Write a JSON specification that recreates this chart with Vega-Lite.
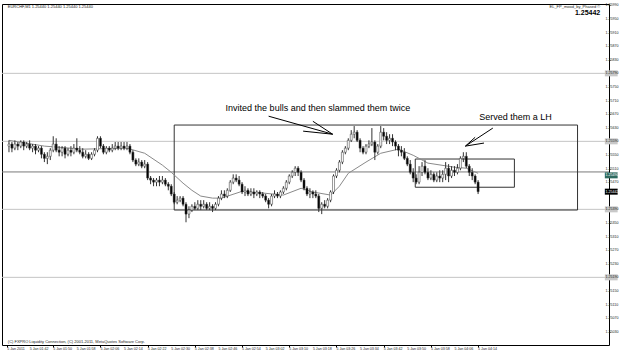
{
"$schema": "https://vega.github.io/schema/vega-lite/v6.json",
"width": 607, "height": 341,
"autosize": {"type": "none"},
"padding": {"left": 2, "top": 4, "right": 16, "bottom": 8},
"background": "#ffffff",
"config": {"view": {"stroke": "#000000", "strokeWidth": 1}, "font": "Liberation Sans",
"axis": {"labels": false, "grid": false, "domain": false, "title": null, "tickColor": "#000000"},
"axisX": {"tickSize": 2}, "axisY": {"tickSize": 1}},
"datasets": {
"candles": [
{"t":95,"o":1.25576,"c":1.25582,"h":1.25593,"l":1.25558},
{"t":96,"o":1.25582,"c":1.25570,"h":1.25588,"l":1.25558},
{"t":97,"o":1.25570,"c":1.25582,"h":1.25593,"l":1.25564},
{"t":98,"o":1.25582,"c":1.25576,"h":1.25588,"l":1.25564},
{"t":99,"o":1.25576,"c":1.25588,"h":1.25593,"l":1.25570},
{"t":100,"o":1.25588,"c":1.25576,"h":1.25593,"l":1.25564},
{"t":101,"o":1.25576,"c":1.25582,"h":1.25588,"l":1.25570},
{"t":102,"o":1.25582,"c":1.25570,"h":1.25593,"l":1.25564},
{"t":103,"o":1.25570,"c":1.25576,"h":1.25582,"l":1.25558},
{"t":104,"o":1.25576,"c":1.25564,"h":1.25582,"l":1.25552},
{"t":105,"o":1.25564,"c":1.25570,"h":1.25576,"l":1.25558},
{"t":106,"o":1.25570,"c":1.25552,"h":1.25576,"l":1.25540},
{"t":107,"o":1.25552,"c":1.25540,"h":1.25558,"l":1.25529},
{"t":108,"o":1.25540,"c":1.25546,"h":1.25558,"l":1.25523},
{"t":109,"o":1.25546,"c":1.25564,"h":1.25570,"l":1.25535},
{"t":110,"o":1.25564,"c":1.25582,"h":1.25605,"l":1.25558},
{"t":111,"o":1.25582,"c":1.25564,"h":1.25599,"l":1.25558},
{"t":112,"o":1.25564,"c":1.25558,"h":1.25576,"l":1.25546},
{"t":113,"o":1.25558,"c":1.25570,"h":1.25576,"l":1.25546},
{"t":114,"o":1.25570,"c":1.25552,"h":1.25576,"l":1.25540},
{"t":115,"o":1.25552,"c":1.25564,"h":1.25570,"l":1.25546},
{"t":116,"o":1.25564,"c":1.25558,"h":1.25576,"l":1.25546},
{"t":117,"o":1.25558,"c":1.25570,"h":1.25582,"l":1.25552},
{"t":118,"o":1.25570,"c":1.25564,"h":1.25599,"l":1.25558},
{"t":119,"o":1.25564,"c":1.25558,"h":1.25576,"l":1.25552},
{"t":120,"o":1.25558,"c":1.25546,"h":1.25570,"l":1.25540},
{"t":121,"o":1.25546,"c":1.25552,"h":1.25564,"l":1.25540},
{"t":122,"o":1.25552,"c":1.25540,"h":1.25558,"l":1.25535},
{"t":123,"o":1.25540,"c":1.25552,"h":1.25558,"l":1.25535},
{"t":124,"o":1.25552,"c":1.25564,"h":1.25570,"l":1.25546},
{"t":125,"o":1.25564,"c":1.25599,"h":1.25605,"l":1.25558},
{"t":126,"o":1.25599,"c":1.25576,"h":1.25605,"l":1.25570},
{"t":127,"o":1.25576,"c":1.25558,"h":1.25582,"l":1.25552},
{"t":128,"o":1.25558,"c":1.25570,"h":1.25576,"l":1.25552},
{"t":129,"o":1.25570,"c":1.25564,"h":1.25576,"l":1.25558},
{"t":130,"o":1.25564,"c":1.25570,"h":1.25582,"l":1.25558},
{"t":131,"o":1.25570,"c":1.25576,"h":1.25588,"l":1.25564},
{"t":132,"o":1.25576,"c":1.25570,"h":1.25588,"l":1.25564},
{"t":133,"o":1.25570,"c":1.25576,"h":1.25588,"l":1.25564},
{"t":134,"o":1.25576,"c":1.25570,"h":1.25588,"l":1.25564},
{"t":135,"o":1.25570,"c":1.25576,"h":1.25588,"l":1.25564},
{"t":136,"o":1.25576,"c":1.25558,"h":1.25582,"l":1.25552},
{"t":137,"o":1.25558,"c":1.25535,"h":1.25564,"l":1.25529},
{"t":138,"o":1.25535,"c":1.25523,"h":1.25540,"l":1.25517},
{"t":139,"o":1.25523,"c":1.25529,"h":1.25540,"l":1.25517},
{"t":140,"o":1.25529,"c":1.25517,"h":1.25535,"l":1.25511},
{"t":141,"o":1.25517,"c":1.25523,"h":1.25535,"l":1.25511},
{"t":142,"o":1.25523,"c":1.25482,"h":1.25529,"l":1.25476},
{"t":143,"o":1.25482,"c":1.25476,"h":1.25488,"l":1.25464},
{"t":144,"o":1.25476,"c":1.25470,"h":1.25482,"l":1.25458},
{"t":145,"o":1.25470,"c":1.25476,"h":1.25482,"l":1.25458},
{"t":146,"o":1.25476,"c":1.25470,"h":1.25488,"l":1.25458},
{"t":147,"o":1.25470,"c":1.25476,"h":1.25488,"l":1.25464},
{"t":148,"o":1.25476,"c":1.25464,"h":1.25482,"l":1.25458},
{"t":149,"o":1.25464,"c":1.25458,"h":1.25470,"l":1.25446},
{"t":150,"o":1.25458,"c":1.25435,"h":1.25464,"l":1.25429},
{"t":151,"o":1.25435,"c":1.25411,"h":1.25441,"l":1.25405},
{"t":152,"o":1.25411,"c":1.25417,"h":1.25429,"l":1.25405},
{"t":153,"o":1.25417,"c":1.25423,"h":1.25429,"l":1.25411},
{"t":154,"o":1.25423,"c":1.25405,"h":1.25429,"l":1.25399},
{"t":155,"o":1.25405,"c":1.25376,"h":1.25411,"l":1.25352},
{"t":156,"o":1.25376,"c":1.25388,"h":1.25399,"l":1.25364},
{"t":157,"o":1.25388,"c":1.25399,"h":1.25405,"l":1.25382},
{"t":158,"o":1.25399,"c":1.25393,"h":1.25411,"l":1.25388},
{"t":159,"o":1.25393,"c":1.25405,"h":1.25417,"l":1.25388},
{"t":160,"o":1.25405,"c":1.25399,"h":1.25417,"l":1.25388},
{"t":161,"o":1.25399,"c":1.25405,"h":1.25417,"l":1.25393},
{"t":162,"o":1.25405,"c":1.25393,"h":1.25411,"l":1.25388},
{"t":163,"o":1.25393,"c":1.25399,"h":1.25411,"l":1.25388},
{"t":164,"o":1.25399,"c":1.25393,"h":1.25405,"l":1.25382},
{"t":165,"o":1.25393,"c":1.25405,"h":1.25411,"l":1.25388},
{"t":166,"o":1.25405,"c":1.25423,"h":1.25429,"l":1.25399},
{"t":167,"o":1.25423,"c":1.25435,"h":1.25446,"l":1.25417},
{"t":168,"o":1.25435,"c":1.25429,"h":1.25446,"l":1.25423},
{"t":169,"o":1.25429,"c":1.25446,"h":1.25452,"l":1.25423},
{"t":170,"o":1.25446,"c":1.25470,"h":1.25476,"l":1.25441},
{"t":171,"o":1.25470,"c":1.25482,"h":1.25493,"l":1.25464},
{"t":172,"o":1.25482,"c":1.25476,"h":1.25493,"l":1.25470},
{"t":173,"o":1.25476,"c":1.25464,"h":1.25488,"l":1.25458},
{"t":174,"o":1.25464,"c":1.25441,"h":1.25470,"l":1.25435},
{"t":175,"o":1.25441,"c":1.25446,"h":1.25458,"l":1.25429},
{"t":176,"o":1.25446,"c":1.25435,"h":1.25452,"l":1.25429},
{"t":177,"o":1.25435,"c":1.25441,"h":1.25452,"l":1.25429},
{"t":178,"o":1.25441,"c":1.25435,"h":1.25452,"l":1.25423},
{"t":179,"o":1.25435,"c":1.25441,"h":1.25446,"l":1.25429},
{"t":180,"o":1.25441,"c":1.25435,"h":1.25446,"l":1.25423},
{"t":181,"o":1.25435,"c":1.25429,"h":1.25441,"l":1.25423},
{"t":182,"o":1.25429,"c":1.25417,"h":1.25435,"l":1.25411},
{"t":183,"o":1.25417,"c":1.25405,"h":1.25423,"l":1.25393},
{"t":184,"o":1.25405,"c":1.25429,"h":1.25435,"l":1.25399},
{"t":185,"o":1.25429,"c":1.25435,"h":1.25446,"l":1.25423},
{"t":186,"o":1.25435,"c":1.25429,"h":1.25441,"l":1.25423},
{"t":187,"o":1.25429,"c":1.25441,"h":1.25446,"l":1.25423},
{"t":188,"o":1.25441,"c":1.25452,"h":1.25458,"l":1.25435},
{"t":189,"o":1.25452,"c":1.25470,"h":1.25476,"l":1.25446},
{"t":190,"o":1.25470,"c":1.25488,"h":1.25493,"l":1.25464},
{"t":191,"o":1.25488,"c":1.25499,"h":1.25505,"l":1.25482},
{"t":192,"o":1.25499,"c":1.25511,"h":1.25517,"l":1.25488},
{"t":193,"o":1.25511,"c":1.25499,"h":1.25517,"l":1.25488},
{"t":194,"o":1.25499,"c":1.25476,"h":1.25505,"l":1.25470},
{"t":195,"o":1.25476,"c":1.25452,"h":1.25482,"l":1.25446},
{"t":196,"o":1.25452,"c":1.25435,"h":1.25458,"l":1.25429},
{"t":197,"o":1.25435,"c":1.25441,"h":1.25452,"l":1.25423},
{"t":198,"o":1.25441,"c":1.25435,"h":1.25446,"l":1.25423},
{"t":199,"o":1.25435,"c":1.25429,"h":1.25446,"l":1.25423},
{"t":200,"o":1.25429,"c":1.25393,"h":1.25435,"l":1.25382},
{"t":201,"o":1.25393,"c":1.25405,"h":1.25411,"l":1.25376},
{"t":202,"o":1.25405,"c":1.25399,"h":1.25417,"l":1.25393},
{"t":203,"o":1.25399,"c":1.25417,"h":1.25423,"l":1.25393},
{"t":204,"o":1.25417,"c":1.25441,"h":1.25446,"l":1.25411},
{"t":205,"o":1.25441,"c":1.25488,"h":1.25493,"l":1.25435},
{"t":206,"o":1.25488,"c":1.25505,"h":1.25511,"l":1.25482},
{"t":207,"o":1.25505,"c":1.25529,"h":1.25535,"l":1.25499},
{"t":208,"o":1.25529,"c":1.25558,"h":1.25564,"l":1.25523},
{"t":209,"o":1.25558,"c":1.25570,"h":1.25576,"l":1.25552},
{"t":210,"o":1.25570,"c":1.25593,"h":1.25599,"l":1.25564},
{"t":211,"o":1.25593,"c":1.25611,"h":1.25623,"l":1.25588},
{"t":212,"o":1.25611,"c":1.25617,"h":1.25635,"l":1.25599},
{"t":213,"o":1.25617,"c":1.25593,"h":1.25623,"l":1.25588},
{"t":214,"o":1.25593,"c":1.25570,"h":1.25599,"l":1.25558},
{"t":215,"o":1.25570,"c":1.25558,"h":1.25576,"l":1.25552},
{"t":216,"o":1.25558,"c":1.25576,"h":1.25582,"l":1.25552},
{"t":217,"o":1.25576,"c":1.25582,"h":1.25593,"l":1.25570},
{"t":218,"o":1.25582,"c":1.25588,"h":1.25629,"l":1.25576},
{"t":219,"o":1.25588,"c":1.25558,"h":1.25593,"l":1.25535},
{"t":220,"o":1.25558,"c":1.25576,"h":1.25582,"l":1.25552},
{"t":221,"o":1.25576,"c":1.25617,"h":1.25635,"l":1.25570},
{"t":222,"o":1.25617,"c":1.25605,"h":1.25629,"l":1.25593},
{"t":223,"o":1.25605,"c":1.25593,"h":1.25617,"l":1.25582},
{"t":224,"o":1.25593,"c":1.25599,"h":1.25611,"l":1.25582},
{"t":225,"o":1.25599,"c":1.25588,"h":1.25611,"l":1.25576},
{"t":226,"o":1.25588,"c":1.25576,"h":1.25593,"l":1.25564},
{"t":227,"o":1.25576,"c":1.25564,"h":1.25582,"l":1.25546},
{"t":228,"o":1.25564,"c":1.25558,"h":1.25576,"l":1.25546},
{"t":229,"o":1.25558,"c":1.25540,"h":1.25570,"l":1.25535},
{"t":230,"o":1.25540,"c":1.25523,"h":1.25546,"l":1.25517},
{"t":231,"o":1.25523,"c":1.25499,"h":1.25535,"l":1.25493},
{"t":232,"o":1.25499,"c":1.25482,"h":1.25511,"l":1.25470},
{"t":233,"o":1.25482,"c":1.25470,"h":1.25493,"l":1.25464},
{"t":234,"o":1.25470,"c":1.25499,"h":1.25517,"l":1.25464},
{"t":235,"o":1.25499,"c":1.25517,"h":1.25529,"l":1.25488},
{"t":236,"o":1.25517,"c":1.25499,"h":1.25535,"l":1.25493},
{"t":237,"o":1.25499,"c":1.25482,"h":1.25511,"l":1.25476},
{"t":238,"o":1.25482,"c":1.25493,"h":1.25505,"l":1.25476},
{"t":239,"o":1.25493,"c":1.25476,"h":1.25499,"l":1.25470},
{"t":240,"o":1.25476,"c":1.25488,"h":1.25499,"l":1.25470},
{"t":241,"o":1.25488,"c":1.25482,"h":1.25505,"l":1.25470},
{"t":242,"o":1.25482,"c":1.25493,"h":1.25505,"l":1.25470},
{"t":243,"o":1.25493,"c":1.25511,"h":1.25529,"l":1.25476},
{"t":244,"o":1.25511,"c":1.25488,"h":1.25523,"l":1.25470},
{"t":245,"o":1.25488,"c":1.25505,"h":1.25517,"l":1.25482},
{"t":246,"o":1.25505,"c":1.25499,"h":1.25517,"l":1.25488},
{"t":247,"o":1.25499,"c":1.25511,"h":1.25523,"l":1.25493},
{"t":248,"o":1.25511,"c":1.25540,"h":1.25546,"l":1.25505},
{"t":249,"o":1.25540,"c":1.25546,"h":1.25558,"l":1.25529},
{"t":250,"o":1.25546,"c":1.25517,"h":1.25558,"l":1.25511},
{"t":251,"o":1.25517,"c":1.25499,"h":1.25523,"l":1.25488},
{"t":252,"o":1.25499,"c":1.25488,"h":1.25511,"l":1.25476},
{"t":253,"o":1.25488,"c":1.25470,"h":1.25493,"l":1.25464},
{"t":254,"o":1.25470,"c":1.25442,"h":1.25476,"l":1.25435}
],
"ma": [
{"t":95,"v":1.25593},{"t":107,"v":1.25576},{"t":120,"v":1.25567},{"t":135,"v":1.25570},
{"t":141,"v":1.25555},{"t":147,"v":1.25520},{"t":150,"v":1.25499},{"t":154,"v":1.25467},
{"t":157,"v":1.25446},{"t":160,"v":1.25429},{"t":164,"v":1.25423},{"t":167,"v":1.25423},
{"t":174,"v":1.25443},{"t":181,"v":1.25438},{"t":188,"v":1.25432},{"t":194,"v":1.25452},
{"t":198,"v":1.25441},{"t":204,"v":1.25432},{"t":207,"v":1.25458},{"t":210,"v":1.25496},
{"t":216,"v":1.25529},{"t":221,"v":1.25555},{"t":227,"v":1.25567},{"t":232,"v":1.25549},
{"t":237,"v":1.25526},{"t":246,"v":1.25514},{"t":250,"v":1.25511},{"t":254,"v":1.25496}
],
"levels": [{"p":1.25790},{"p":1.25590},{"p":1.25500},{"p":1.25390},{"p":1.25190}],
"ylabels": [
{"p":1.2599,"s":"1.25990"},{"p":1.2595,"s":"1.25950"},{"p":1.2591,"s":"1.25910"},{"p":1.2587,"s":"1.25870"},
{"p":1.2583,"s":"1.25830"},{"p":1.2575,"s":"1.25750"},{"p":1.2571,"s":"1.25710"},{"p":1.2567,"s":"1.25670"},
{"p":1.2563,"s":"1.25630"},{"p":1.2555,"s":"1.25550"},{"p":1.2551,"s":"1.25510"},{"p":1.2547,"s":"1.25470"},
{"p":1.2535,"s":"1.25350"},{"p":1.2531,"s":"1.25310"},{"p":1.2527,"s":"1.25270"},{"p":1.2523,"s":"1.25230"},
{"p":1.2515,"s":"1.25150"},{"p":1.2511,"s":"1.25110"},{"p":1.2507,"s":"1.25070"},{"p":1.2503,"s":"1.25030"}
],
"xlabels": [
{"t":94.4,"s":"5 Jan 2011"},{"t":102,"s":"5 Jan 01:42"},{"t":110,"s":"5 Jan 01:50"},{"t":118,"s":"5 Jan 01:58"},
{"t":126,"s":"5 Jan 02:06"},{"t":134,"s":"5 Jan 02:14"},{"t":142,"s":"5 Jan 02:22"},{"t":150,"s":"5 Jan 02:30"},
{"t":158,"s":"5 Jan 02:38"},{"t":166,"s":"5 Jan 02:46"},{"t":174,"s":"5 Jan 02:54"},{"t":182,"s":"5 Jan 03:02"},
{"t":190,"s":"5 Jan 03:10"},{"t":198,"s":"5 Jan 03:18"},{"t":206,"s":"5 Jan 03:26"},{"t":214,"s":"5 Jan 03:34"},
{"t":222,"s":"5 Jan 03:42"},{"t":230,"s":"5 Jan 03:50"},{"t":238,"s":"5 Jan 03:58"},{"t":246,"s":"5 Jan 04:06"},
{"t":254,"s":"5 Jan 04:14"}
],
"tags": [{"p":1.25790,"s":"1.25790"},{"p":1.25590,"s":"1.25590"},{"p":1.25390,"s":"1.25390"},{"p":1.25190,"s":"1.25190"}],
"bidtag": [{"p":1.25442,"s":"1.25442"}],
"greentag": [{"p":1.25490,"s":"1.25490"}],
"boxes": [
{"t1":151,"t2":287.7,"p1":1.25638,"p2":1.25388},
{"t1":232.7,"t2":266.3,"p1":1.25538,"p2":1.25455}
],
"segs": [
{"t1":183,"p1":1.25664,"t2":204.7,"p2":1.25611},
{"t1":198,"p1":1.25649,"t2":204.7,"p2":1.25611},
{"t1":194.7,"p1":1.25620,"t2":204.7,"p2":1.25611},
{"t1":259,"p1":1.25629,"t2":249.7,"p2":1.25576},
{"t1":253,"p1":1.25602,"t2":249.7,"p2":1.25576},
{"t1":256,"p1":1.25585,"t2":249.7,"p2":1.25576}
],
"notes": [
{"t":199.7,"p":1.25687,"s":"Invited the bulls and then slammed them twice"},
{"t":266.7,"p":1.25661,"s":"Served them a LH"}
],
"leftsmall": [
{"t":94.6,"p":1.25986,"s":"EURCHF,M1  1.25440 1.25440 1.25440 1.25440"},
{"t":94.6,"p":1.25001,"s":"(C) FXPRO Liquidity Connection, (C) 2001-2011, MetaQuotes Software Corp."}
],
"rightsmall": [{"t":295.4,"p":1.25986,"s":"EL_FP_mood_by_Phased ©"}],
"bid": [{"t":295.4,"p":1.25967,"s":"1.25442"}]
},
"layer": [
{
"data": {"name": "levels"},
"mark": {"type": "rule", "strokeWidth": 1},
"encoding": {
"y": {"field": "p", "type": "quantitative", "scale": {"domain": [1.24991, 1.25994], "nice": false, "zero": false},
"axis": {"orient": "right", "values": [1.2599,1.2595,1.2591,1.2587,1.2583,1.2579,1.2575,1.2571,1.2567,1.2563,1.2559,1.2555,1.2551,1.2547,1.2543,1.2539,1.2535,1.2531,1.2527,1.2523,1.2519,1.2515,1.2511,1.2507,1.2503]}},
"color": {"condition": {"test": "datum.p == 1.255", "value": "#7a7a7a"}, "value": "#c4c4c4"}
}
},
{
"data": {"name": "boxes"},
"mark": {"type": "rect", "filled": false, "stroke": "#333333", "strokeWidth": 1},
"encoding": {
"x": {"field": "t1", "type": "quantitative", "scale": {"domain": [94.33, 296.67], "nice": false, "zero": false},
"axis": {"values": [94.4,102,110,118,126,134,142,150,158,166,174,182,190,198,206,214,222,230,238,246,254]}},
"x2": {"field": "t2"},
"y": {"field": "p1", "type": "quantitative", "scale": {"domain": [1.24991, 1.25994], "nice": false, "zero": false}},
"y2": {"field": "p2"}
}
},
{
"data": {"name": "ma"},
"mark": {"type": "line", "color": "#8a8a8a", "strokeWidth": 1},
"encoding": {
"x": {"field": "t", "type": "quantitative", "scale": {"domain": [94.33, 296.67], "nice": false, "zero": false}},
"y": {"field": "v", "type": "quantitative", "scale": {"domain": [1.24991, 1.25994], "nice": false, "zero": false}}
}
},
{
"data": {"name": "candles"},
"mark": {"type": "rule", "color": "#333333", "strokeWidth": 1},
"encoding": {
"x": {"field": "t", "type": "quantitative", "scale": {"domain": [94.33, 296.67], "nice": false, "zero": false}},
"y": {"field": "l", "type": "quantitative", "scale": {"domain": [1.24991, 1.25994], "nice": false, "zero": false}},
"y2": {"field": "h"}
}
},
{
"data": {"name": "candles"},
"mark": {"type": "bar", "width": 2, "stroke": "#333333", "strokeWidth": 0.5},
"encoding": {
"x": {"field": "t", "type": "quantitative", "scale": {"domain": [94.33, 296.67], "nice": false, "zero": false}},
"y": {"field": "o", "type": "quantitative", "scale": {"domain": [1.24991, 1.25994], "nice": false, "zero": false}},
"y2": {"field": "c"},
"fill": {"condition": {"test": "datum.c >= datum.o", "value": "#ffffff"}, "value": "#000000"}
}
},
{
"data": {"name": "segs"},
"mark": {"type": "rule", "color": "#000000", "strokeWidth": 1},
"encoding": {
"x": {"field": "t1", "type": "quantitative", "scale": {"domain": [94.33, 296.67], "nice": false, "zero": false}},
"x2": {"field": "t2"},
"y": {"field": "p1", "type": "quantitative", "scale": {"domain": [1.24991, 1.25994], "nice": false, "zero": false}},
"y2": {"field": "p2"}
}
},
{
"data": {"name": "ylabels"},
"mark": {"type": "text", "fontSize": 3.6, "font": "Liberation Sans", "color": "#222222", "align": "left", "baseline": "middle", "clip": false},
"encoding": {
"x": {"datum": 297.2, "type": "quantitative", "scale": {"domain": [94.33, 296.67], "nice": false, "zero": false}},
"y": {"field": "p", "type": "quantitative", "scale": {"domain": [1.24991, 1.25994], "nice": false, "zero": false}},
"text": {"field": "s"}
}
},
{
"data": {"name": "xlabels"},
"mark": {"type": "text", "fontSize": 3.6, "font": "Liberation Sans", "color": "#222222", "align": "left", "baseline": "middle", "clip": false},
"encoding": {
"x": {"field": "t", "type": "quantitative", "scale": {"domain": [94.33, 296.67], "nice": false, "zero": false}},
"y": {"datum": 1.24979, "type": "quantitative", "scale": {"domain": [1.24991, 1.25994], "nice": false, "zero": false}},
"text": {"field": "s"}
}
},
{
"data": {"name": "tags"},
"mark": {"type": "rect", "fill": "#c8c8c8", "height": 6, "clip": false},
"encoding": {
"x": {"datum": 296.95, "type": "quantitative", "scale": {"domain": [94.33, 296.67], "nice": false, "zero": false}},
"x2": {"datum": 301.3},
"y": {"field": "p", "type": "quantitative", "scale": {"domain": [1.24991, 1.25994], "nice": false, "zero": false}}
}
},
{
"data": {"name": "greentag"},
"mark": {"type": "rect", "fill": "#2f6b60", "height": 6, "clip": false},
"encoding": {
"x": {"datum": 296.95, "type": "quantitative", "scale": {"domain": [94.33, 296.67], "nice": false, "zero": false}},
"x2": {"datum": 301.3},
"y": {"field": "p", "type": "quantitative", "scale": {"domain": [1.24991, 1.25994], "nice": false, "zero": false}}
}
},
{
"data": {"name": "bidtag"},
"mark": {"type": "rect", "fill": "#000000", "height": 6, "clip": false},
"encoding": {
"x": {"datum": 296.95, "type": "quantitative", "scale": {"domain": [94.33, 296.67], "nice": false, "zero": false}},
"x2": {"datum": 301.3},
"y": {"field": "p", "type": "quantitative", "scale": {"domain": [1.24991, 1.25994], "nice": false, "zero": false}}
}
},
{
"data": {"name": "tags"},
"mark": {"type": "text", "fontSize": 3.6, "font": "Liberation Sans", "color": "#222222", "align": "left", "baseline": "middle", "clip": false},
"encoding": {
"x": {"datum": 297.2, "type": "quantitative", "scale": {"domain": [94.33, 296.67], "nice": false, "zero": false}},
"y": {"field": "p", "type": "quantitative", "scale": {"domain": [1.24991, 1.25994], "nice": false, "zero": false}},
"text": {"field": "s"}
}
},
{
"data": {"name": "greentag"},
"mark": {"type": "text", "fontSize": 3.6, "font": "Liberation Sans", "color": "#ffffff", "align": "left", "baseline": "middle", "clip": false},
"encoding": {
"x": {"datum": 297.2, "type": "quantitative", "scale": {"domain": [94.33, 296.67], "nice": false, "zero": false}},
"y": {"field": "p", "type": "quantitative", "scale": {"domain": [1.24991, 1.25994], "nice": false, "zero": false}},
"text": {"field": "s"}
}
},
{
"data": {"name": "bidtag"},
"mark": {"type": "text", "fontSize": 3.6, "font": "Liberation Sans", "color": "#ffffff", "align": "left", "baseline": "middle", "clip": false},
"encoding": {
"x": {"datum": 297.2, "type": "quantitative", "scale": {"domain": [94.33, 296.67], "nice": false, "zero": false}},
"y": {"field": "p", "type": "quantitative", "scale": {"domain": [1.24991, 1.25994], "nice": false, "zero": false}},
"text": {"field": "s"}
}
},
{
"data": {"name": "notes"},
"mark": {"type": "text", "fontSize": 9, "font": "Liberation Sans", "color": "#000000", "align": "center", "baseline": "middle"},
"encoding": {
"x": {"field": "t", "type": "quantitative", "scale": {"domain": [94.33, 296.67], "nice": false, "zero": false}},
"y": {"field": "p", "type": "quantitative", "scale": {"domain": [1.24991, 1.25994], "nice": false, "zero": false}},
"text": {"field": "s"}
}
},
{
"data": {"name": "leftsmall"},
"mark": {"type": "text", "fontSize": 4, "font": "Liberation Sans", "color": "#222222", "align": "left", "baseline": "middle"},
"encoding": {
"x": {"field": "t", "type": "quantitative", "scale": {"domain": [94.33, 296.67], "nice": false, "zero": false}},
"y": {"field": "p", "type": "quantitative", "scale": {"domain": [1.24991, 1.25994], "nice": false, "zero": false}},
"text": {"field": "s"}
}
},
{
"data": {"name": "rightsmall"},
"mark": {"type": "text", "fontSize": 4, "font": "Liberation Sans", "color": "#222222", "align": "right", "baseline": "middle"},
"encoding": {
"x": {"field": "t", "type": "quantitative", "scale": {"domain": [94.33, 296.67], "nice": false, "zero": false}},
"y": {"field": "p", "type": "quantitative", "scale": {"domain": [1.24991, 1.25994], "nice": false, "zero": false}},
"text": {"field": "s"}
}
},
{
"data": {"name": "bid"},
"mark": {"type": "text", "fontSize": 7, "fontWeight": "bold", "font": "Liberation Sans", "color": "#000000", "align": "right", "baseline": "middle"},
"encoding": {
"x": {"field": "t", "type": "quantitative", "scale": {"domain": [94.33, 296.67], "nice": false, "zero": false}},
"y": {"field": "p", "type": "quantitative", "scale": {"domain": [1.24991, 1.25994], "nice": false, "zero": false}},
"text": {"field": "s"}
}
}
]
}
